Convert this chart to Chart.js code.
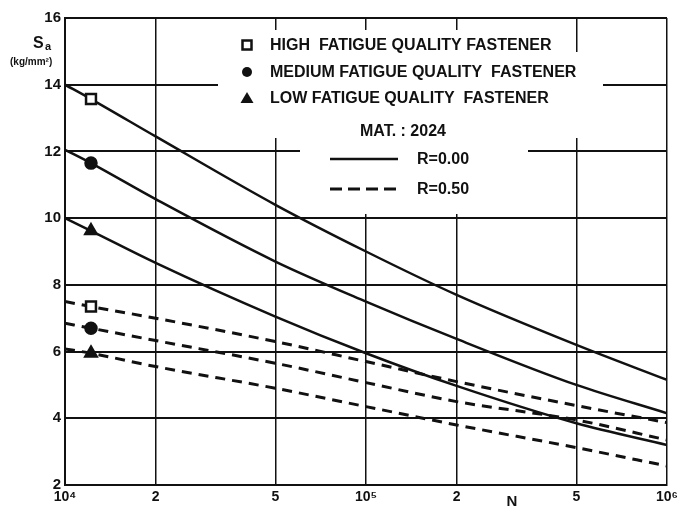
<!DOCTYPE html>
<html>
<head>
<meta charset="utf-8">
<script src="https://cdn.jsdelivr.net/npm/chart.js@4/dist/chart.umd.min.js"></script>
<style>
  html, body { margin: 0; padding: 0; background: #fff; }
</style>
</head>
<body>
<canvas id="chart" width="683" height="517"></canvas>
<script>
// N (cycles, log axis) and Sa in kg/mm2
const cycles = [1e4, 1.22e4, 2e4, 5e4, 1e5, 2e5, 5e5, 1e6];
const highR000 = [14.0, 13.57, 12.45, 10.4, 9.0, 7.7, 6.2, 5.15];
const mediumR000 = [12.05, 11.65, 10.57, 8.7, 7.5, 6.38, 5.0, 4.15];
const lowR000 = [10.0, 9.62, 8.66, 7.05, 5.95, 4.97, 3.85, 3.2];
const highR050 = [7.5, 7.35, 7.0, 6.3, 5.7, 5.1, 4.38, 3.87];
const mediumR050 = [6.85, 6.7, 6.33, 5.65, 5.07, 4.5, 3.95, 3.35];
const lowR050 = [6.08, 5.95, 5.55, 4.9, 4.35, 3.8, 3.12, 2.57];

const markerIndex = 1; // the point that carries the symbol
const xTickValues = [1e4, 2e4, 5e4, 1e5, 2e5, 5e5, 1e6];
const xTickLabels = ['10⁴', '2', '5', '10⁵', '2', '5', '10⁶'];
const yMin = 2, yMax = 16, yStep = 2;

const legendLabels = ['HIGH  FATIGUE QUALITY FASTENER', 'MEDIUM FATIGUE QUALITY  FASTENER', 'LOW FATIGUE QUALITY  FASTENER'];
const materialLabel = 'MAT. : 2024';
const ratioLabels = ['R=0.00', 'R=0.50'];

const INK = '#111';
const FONT = "'Liberation Sans', Arial, sans-serif";

const shapes = [
    { style: 'rect', radius: 7, fill: '#fff' },
    { style: 'circle', radius: 5.5, fill: INK },
    { style: 'triangle', radius: 6.5, fill: INK }
];

function series(values, shape, dashed) {
    return {
        data: cycles.map((n, i) => ({ x: n, y: values[i] })),
        borderColor: INK,
        borderWidth: dashed ? 3 : 2.5,
        borderDash: dashed ? [10, 7] : [],
        cubicInterpolationMode: 'monotone',
        pointStyle: shape.style,
        pointRadius: ctx => ctx.dataIndex === markerIndex ? shape.radius : 0,
        pointBackgroundColor: shape.fill,
        pointBorderColor: INK,
        pointBorderWidth: 2.5
    };
}

function drawMarker(ctx, shape, x, y) {
    ctx.beginPath();
    if (shape.style === 'rect') {
        ctx.rect(x - 4.5, y - 4.5, 9, 9);
        ctx.fillStyle = '#fff';
        ctx.fill();
        ctx.lineWidth = 2.5;
        ctx.strokeStyle = INK;
        ctx.stroke();
    } else if (shape.style === 'circle') {
        ctx.arc(x, y, 5, 0, Math.PI * 2);
        ctx.fillStyle = INK;
        ctx.fill();
    } else {
        ctx.moveTo(x, y - 6);
        ctx.lineTo(x + 6.5, y + 5);
        ctx.lineTo(x - 6.5, y + 5);
        ctx.closePath();
        ctx.fillStyle = INK;
        ctx.fill();
    }
}

// white legend panel over the grid, texts and the axis captions
const annotations = {
    id: 'annotations',
    beforeDatasetsDraw(chart) {
        const ctx = chart.ctx;
        ctx.save();
        ctx.fillStyle = '#fff';
        ctx.fillRect(218, 30, 350, 22);
        ctx.fillRect(218, 52, 385, 86);
        ctx.fillRect(300, 138, 228, 76);

        ctx.textBaseline = 'middle';
        ctx.textAlign = 'left';
        ctx.font = 'bold 16px ' + FONT;
        const rowY = [45, 72, 98];
        legendLabels.forEach((label, i) => {
            drawMarker(ctx, shapes[i], 247, rowY[i]);
            ctx.fillStyle = INK;
            ctx.fillText(label, 270, rowY[i] + 1);
        });

        ctx.fillStyle = INK;
        ctx.fillText(materialLabel, 360, 132);

        ctx.strokeStyle = INK;
        ctx.lineWidth = 2.5;
        ctx.beginPath();
        ctx.moveTo(330, 159);
        ctx.lineTo(398, 159);
        ctx.stroke();
        ctx.setLineDash([12, 6]);
        ctx.lineWidth = 3;
        ctx.beginPath();
        ctx.moveTo(330, 189);
        ctx.lineTo(398, 189);
        ctx.stroke();
        ctx.setLineDash([]);
        ctx.fillText(ratioLabels[0], 417, 160);
        ctx.fillText(ratioLabels[1], 417, 190);
        ctx.restore();
    },
    afterDraw(chart) {
        const ctx = chart.ctx;
        ctx.save();
        ctx.fillStyle = INK;
        ctx.textBaseline = 'alphabetic';
        ctx.font = 'bold 16px ' + FONT;
        ctx.fillText('S', 33, 48);
        ctx.font = 'bold 11px ' + FONT;
        ctx.fillText('a', 45, 50);
        ctx.font = 'bold 10px ' + FONT;
        ctx.fillText('(kg/mm²)', 10, 65);
        ctx.font = 'bold 15px ' + FONT;
        ctx.textAlign = 'center';
        ctx.fillText('N', 512, 506);
        ctx.restore();
    }
};

new Chart(document.getElementById('chart'), {
    type: 'line',
    data: {
        datasets: [
            series(highR000, shapes[0], false),
            series(mediumR000, shapes[1], false),
            series(lowR000, shapes[2], false),
            series(highR050, shapes[0], true),
            series(mediumR050, shapes[1], true),
            series(lowR050, shapes[2], true)
        ]
    },
    options: {
        responsive: false,
        animation: false,
        layout: { padding: { top: 18, right: 16, left: 0, bottom: 0 } },
        plugins: { legend: { display: false }, tooltip: { enabled: false } },
        scales: {
            x: {
                type: 'logarithmic',
                min: cycles[0],
                max: cycles[cycles.length - 1],
                afterBuildTicks: s => { s.ticks = xTickValues.map(v => ({ value: v })); },
                afterFit: s => { s.height = 32; },
                ticks: {
                    autoSkip: false,
                    maxRotation: 0,
                    padding: 4,
                    color: INK,
                    font: { family: FONT, size: 14, weight: 'bold' },
                    callback: (v, i) => xTickLabels[i]
                },
                grid: { color: INK, lineWidth: 1.5, drawTicks: false },
                border: { color: INK, width: 2 }
            },
            y: {
                min: yMin,
                max: yMax,
                afterFit: s => { s.width = 65; },
                ticks: {
                    stepSize: yStep,
                    padding: 4,
                    color: INK,
                    font: { family: FONT, size: 15, weight: 'bold' }
                },
                grid: { color: INK, lineWidth: 2, drawTicks: false },
                border: { color: INK, width: 2 }
            }
        }
    },
    plugins: [annotations]
});
</script>
</body>
</html>
